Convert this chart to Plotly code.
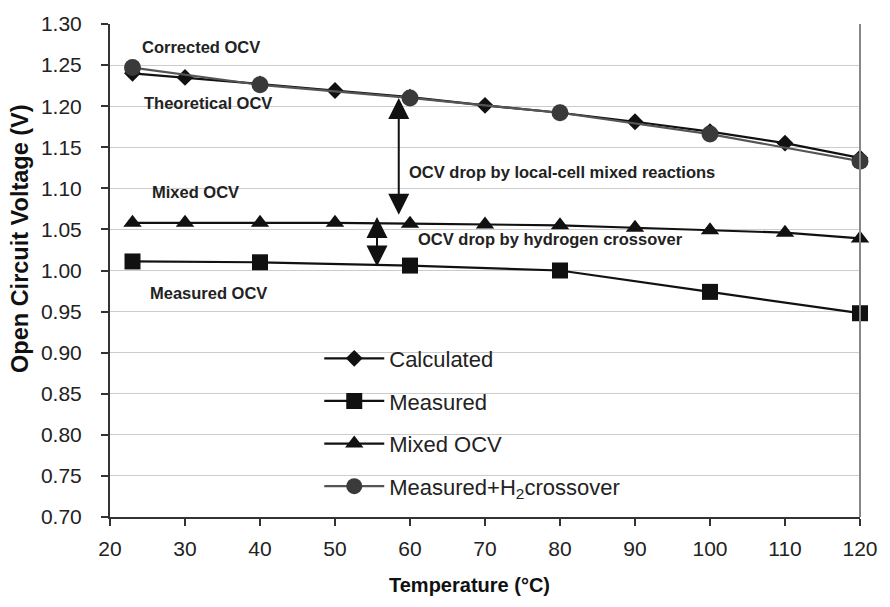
import plotly.graph_objects as go

# ---- data ----
temps_all = [23, 30, 40, 50, 60, 70, 80, 90, 100, 110, 120]
calculated = [1.240, 1.235, 1.227, 1.219, 1.211, 1.201, 1.192, 1.181, 1.169, 1.155, 1.137]
mixed_ocv = [1.058, 1.058, 1.058, 1.058, 1.057, 1.056, 1.055, 1.052, 1.049, 1.046, 1.039]

temps_meas = [23, 40, 60, 80, 100, 120]
measured = [1.011, 1.010, 1.006, 1.000, 0.974, 0.948]
measured_h2 = [1.247, 1.226, 1.210, 1.192, 1.166, 1.133]

x_ticks = [20, 30, 40, 50, 60, 70, 80, 90, 100, 110, 120]
y_ticks = [0.70, 0.75, 0.80, 0.85, 0.90, 0.95, 1.00, 1.05, 1.10, 1.15, 1.20, 1.25, 1.30]

# annotation labels: (text, x, y)
labels = [
    ("Corrected OCV", 24.0, 1.272),
    ("Theoretical OCV", 24.2, 1.204),
    ("Mixed OCV", 25.3, 1.095),
    ("Measured OCV", 25.0, 0.973),
    ("OCV drop by local-cell mixed reactions", 59.6, 1.120),
    ("OCV drop by hydrogen crossover", 60.8, 1.038),
]
# double arrows: (x, y_top, y_bottom)
arrows = [
    (58.5, 1.210, 1.066),
    (55.6, 1.065, 1.003),
]

FONT = "Liberation Sans, Arial, sans-serif"

fig = go.Figure()
fig.add_trace(go.Scatter(
    x=temps_all, y=calculated, name="Calculated", mode="lines+markers",
    line=dict(color="#111111", width=2.2),
    marker=dict(symbol="diamond", size=13, color="#111111"),
    cliponaxis=False, legendgroup="a"))
fig.add_trace(go.Scatter(
    x=temps_meas, y=measured, name="Measured", mode="lines+markers",
    line=dict(color="#111111", width=2.2),
    marker=dict(symbol="square", size=16, color="#111111"),
    cliponaxis=False, legendgroup="b"))
fig.add_trace(go.Scatter(
    x=temps_all, y=mixed_ocv, name="Mixed OCV", mode="lines+markers",
    line=dict(color="#111111", width=2.2),
    marker=dict(symbol="triangle-up", size=16, color="#111111"),
    cliponaxis=False, legendgroup="c"))
fig.add_trace(go.Scatter(
    x=temps_meas, y=measured_h2, name="Measured+H<sub>2</sub>crossover", mode="lines+markers",
    line=dict(color="#555555", width=2.2),
    marker=dict(symbol="circle", size=17, color="#3a3a3a"),
    cliponaxis=False, legendgroup="d"))

for text, x, y in labels:
    fig.add_annotation(x=x, y=y, text=text, showarrow=False, xanchor="left", yanchor="middle",
                       font=dict(family=FONT, size=16.5, color="#222222", weight="bold"))

for x, yt, yb in arrows:
    fig.add_annotation(x=x, y=yt, ax=x, ay=yb, axref="x", ayref="y", text="",
                       showarrow=True, arrowside="end+start", arrowhead=2, startarrowhead=2,
                       arrowsize=2.1, startarrowsize=2.1, arrowwidth=2, arrowcolor="#111111")

# axis titles (placed as text to match the reference offsets)
fig.add_annotation(xref="paper", yref="paper", x=0.479, y=-0.138, text="<b>Temperature (°C)</b>",
                   showarrow=False, xanchor="center", yanchor="middle",
                   font=dict(size=20, family=FONT, color="#111111"))
fig.add_annotation(xref="paper", yref="paper", x=-0.12, y=0.564, text="<b>Open Circuit Voltage (V)</b>",
                   showarrow=False, xanchor="center", yanchor="middle", textangle=-90,
                   font=dict(size=23.5, family=FONT, color="#111111"))

fig.add_shape(type="line", xref="paper", yref="paper", x0=1, x1=1, y0=0, y1=1,
              line=dict(color="#888888", width=2))

fig.update_layout(
    width=890, height=607,
    margin=dict(l=110, r=24, t=17, b=90),
    paper_bgcolor="white", plot_bgcolor="white",
    font=dict(family=FONT, color="#222222"),
    showlegend=True,
    legend=dict(x=0.279, y=0.364, xanchor="left", yanchor="top",
                bgcolor="rgba(0,0,0,0)", font=dict(size=22, family=FONT, color="#222222"),
                tracegroupgap=11, itemwidth=60),
    xaxis=dict(range=[20, 120], tickvals=x_ticks, ticktext=[str(v) for v in x_ticks],
               showgrid=False, zeroline=False, showline=True, linecolor="#333333", linewidth=2,
               ticks="outside", ticklen=7, tickwidth=1.5, tickcolor="#333333",
               ticklabelstandoff=5,
               tickfont=dict(size=21, family=FONT, color="#222222")),
    yaxis=dict(range=[0.70, 1.30], tickvals=y_ticks, ticktext=[f"{v:.2f}" for v in y_ticks],
               showgrid=True, gridcolor="#cccccc", gridwidth=1, zeroline=False,
               showline=True, linecolor="#333333", linewidth=2,
               ticks="outside", ticklen=7, tickwidth=1.5, tickcolor="#333333",
               ticklabelstandoff=15,
               tickfont=dict(size=21, family=FONT, color="#222222")),
)

fig.write_html("out.html")
